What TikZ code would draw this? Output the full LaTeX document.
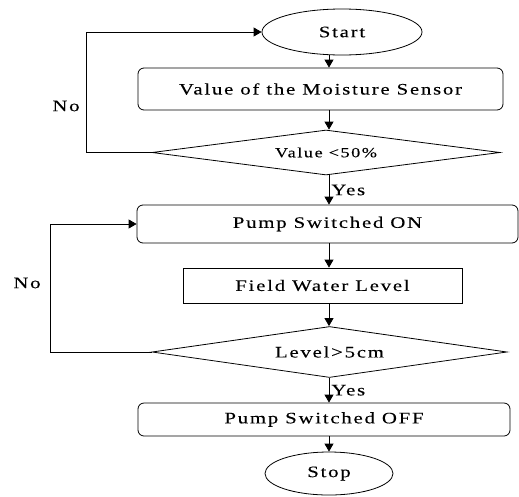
\documentclass[tikz,border=0pt]{standalone}
\usepackage{fontspec}
\setmainfont{Liberation Serif}[LetterSpace=11,FakeStretch=1.3,FakeBold=0.15]
\usetikzlibrary{shapes.geometric,arrows.meta}
\begin{document}
\begin{tikzpicture}[x=1pt,y=-1pt,
  every node/.style={font=\fontsize{16}{18}\selectfont, inner sep=0pt},
  line/.style={draw=black, line width=0.8pt},
  arr/.style={line, -{Triangle[length=8pt,width=9pt]}},
  term/.style={line, ellipse},
  rbox/.style={line, rectangle, rounded corners=6pt},
  pbox/.style={line, rectangle},
  dec/.style={line, diamond, aspect=7.5},
  lbl/.style={font=\fontsize{16}{18}\selectfont}]
\useasboundingbox (0,0) rectangle (519,496);
\node[term, minimum width=160pt, minimum height=46pt] (start) at (342,32) {Start};
\node[rbox, minimum width=365pt, minimum height=42pt] (b1) at (320.5,89) {Value of the Moisture Sensor};
\node[dec, minimum width=348pt, minimum height=45pt] (d1) at (326,152.5) {\fontsize{14}{16}\selectfont Value <50\%};
\node[rbox, minimum width=381pt, minimum height=38pt] (b2) at (327.5,224) {Pump Switched ON};
\node[pbox, minimum width=279pt, minimum height=35pt] (b3) at (322.5,285.5) {Field Water Level};
\node[dec, minimum width=355pt, minimum height=51pt] (d2) at (329.5,352) {Level>5cm};
\node[rbox, minimum width=372pt, minimum height=33pt] (b4) at (324,419.5) {Pump Switched OFF};
\node[term, minimum width=128pt, minimum height=43pt] (stop) at (329,473.5) {Stop};
\coordinate (ax) at (329,0);
\coordinate (l1) at (86,0);
\coordinate (l2) at (50,0);
\draw[arr] (start.south -| ax) -- (b1.north -| ax);
\draw[arr] (b1.south -| ax) -- (d1.north -| ax);
\draw[arr] (d1.south -| ax) -- node[lbl, right, xshift=2pt] (y1) {Yes} (b2.north -| ax);
\draw[arr] (b2.south -| ax) -- (b3.north -| ax);
\draw[arr] (b3.south -| ax) -- (d2.north -| ax);
\draw[arr] (d2.south -| ax) -- node[lbl, right, xshift=2pt] (y2) {Yes} (b4.north -| ax);
\draw[arr] (b4.south -| ax) -- (stop.north -| ax);
\draw[arr] (d1.west) -- (d1.west -| l1) -- (start.west -| l1) -- (start.west);
\draw[arr] (d2.west) -- (d2.west -| l2) -- (b2.west -| l2) -- (b2.west);
\node[lbl] (no1) at (66,106) {No};
\node[lbl] (no2) at (27,283) {No};
\end{tikzpicture}
\end{document}
